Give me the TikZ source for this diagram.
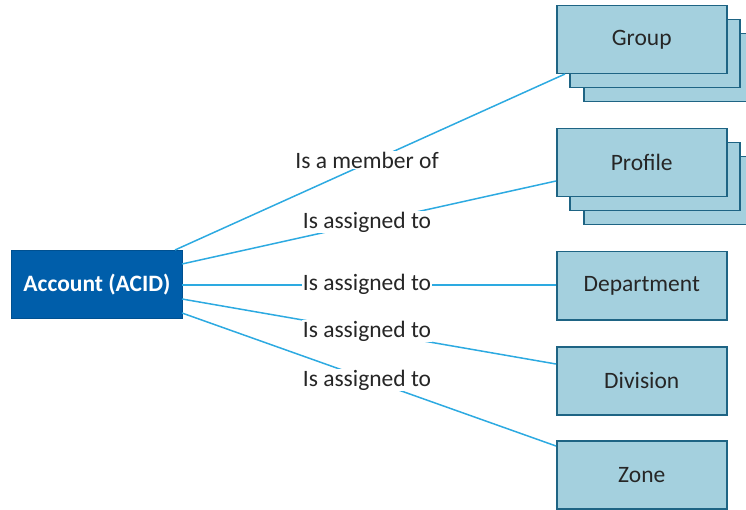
\documentclass[tikz,border=0pt]{standalone}
\usepackage{fontspec}
\setmainfont{Carlito}
\begin{document}
\definecolor{accblue}{RGB}{0,94,170}
\definecolor{boxfill}{RGB}{164,208,222}
\definecolor{boxline}{RGB}{30,100,132}
\definecolor{linkblue}{RGB}{45,170,225}
\definecolor{txt}{RGB}{38,38,38}
\begin{tikzpicture}[x=1pt,y=-1pt,
  entity/.style={draw=boxline,line width=1.5pt,fill=boxfill,minimum width=170pt,minimum height=68pt,
    inner sep=0pt,anchor=north west,font=\fontsize{23.5}{26}\selectfont,text=txt},
  account/.style={draw=accblue!85!black,line width=1pt,fill=accblue,minimum width=171pt,minimum height=68pt,
    inner sep=0pt,anchor=north west,font=\fontsize{23.5}{26}\selectfont\bfseries,text=white},
  link/.style={draw=linkblue,line width=1.5pt},
  rel/.style={fill=white,inner sep=1pt,font=\fontsize{23.5}{26}\selectfont,text=txt}]
\useasboundingbox (0,0) rectangle (746,510);
% account
\node[account] (acc) at (11,250) {Account (ACID)};
% stacked boxes for Group
\node[entity] (g3) at (583,33) {};
\node[entity] (g2) at (569,19) {};
\node[entity] (grp) at (556,5) {Group};
% stacked boxes for Profile
\node[entity] (p3) at (583,156) {};
\node[entity] (p2) at (569,142) {};
\node[entity] (prf) at (556,128) {Profile};
% single entities
\node[entity] (dep) at (556,251) {Department};
\node[entity] (div) at (556,346) {Division};
\node[entity] (zon) at (556,440) {Zone};
% connection points
\coordinate (a1) at (175,250);
\coordinate (a2) at (182,264);
\coordinate (a3) at (182,285);
\coordinate (a4) at (182,299);
\coordinate (a5) at (182,313);
\coordinate (t1) at (565,74);
\coordinate (t2) at (556,181);
\coordinate (t3) at (556,285);
\coordinate (t4) at (556,364);
\coordinate (t5) at (556,446);
% connectors
\draw[link] (a1) -- (t1);
\draw[link] (a2) -- (t2);
\draw[link] (a3) -- (t3);
\draw[link] (a4) -- (t4);
\draw[link] (a5) -- (t5);
% relation labels
\node[rel] (l1) at (367,160) {Is a member of};
\node[rel] (l2) at (367,222) {Is assigned to};
\node[rel] (l3) at (367,284) {Is assigned to};
\node[rel] (l4) at (367,331) {Is assigned to};
\node[rel] (l5) at (367,380) {Is assigned to};
\end{tikzpicture}
\end{document}
